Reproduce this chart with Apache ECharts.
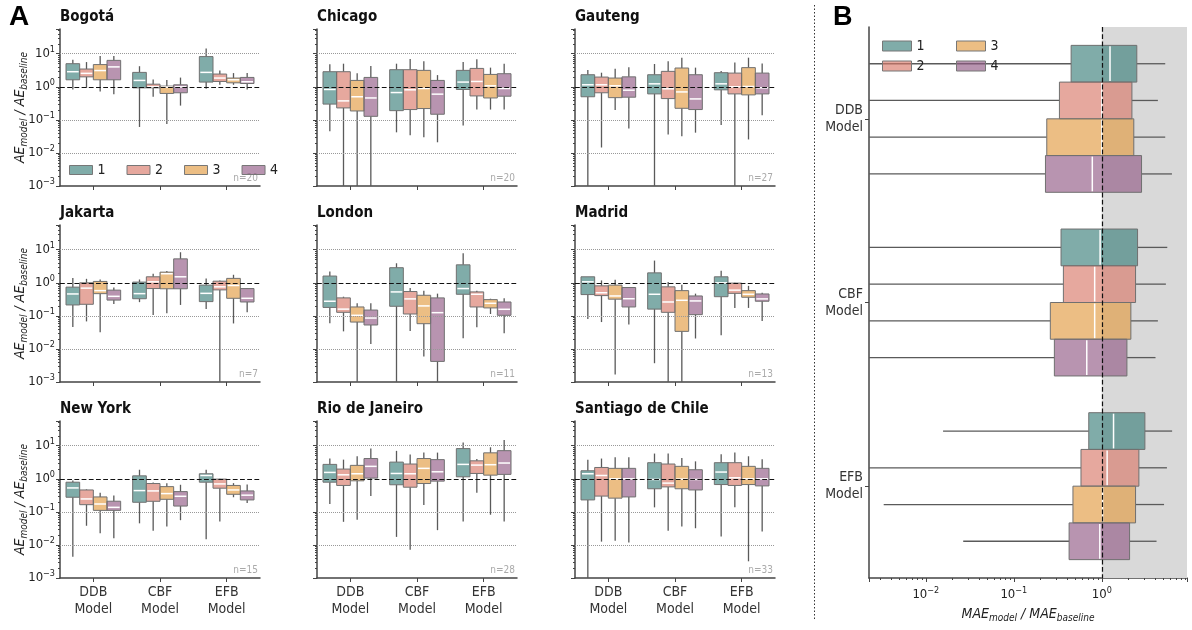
<!DOCTYPE html>
<html><head><meta charset="utf-8">
<script src="https://cdn.jsdelivr.net/npm/echarts@6/dist/echarts.min.js"></script>
<style>html,body{margin:0;padding:0;background:#fff}#c{width:1192px;height:630px}</style>
</head><body><div id="c"></div><script>
// ---------------- data ----------------
const cities = ['Bogotá','Chicago','Gauteng','Jakarta','London','Madrid','New York','Rio de Janeiro','Santiago de Chile'];
const nCounts = ['n=20','n=20','n=27','n=7','n=11','n=13','n=15','n=28','n=33'];
const models = ['DDB\nModel','CBF\nModel','EFB\nModel'];
const seriesNames = ['1','2','3','4'];
// each city: 4 series (1..4); each series: DDB, CBF, EFB as [whiskerLow, q1, median, q3, whiskerHigh]
const bogota = [
  [[0.83,1.63,2.86,5.0,6.6],[0.061,0.93,1.56,2.73,4.2],[0.87,1.39,2.73,8.2,14.3]],
  [[0.93,2.0,2.55,3.45,5.6],[0.5,0.93,1.0,1.2,1.67],[1.15,1.45,1.84,2.43,3.1]],
  [[0.72,1.63,3.1,4.7,8.6],[0.075,0.63,0.98,1.05,1.6],[1.15,1.32,1.63,1.84,2.6]],
  [[0.6,1.63,4.0,6.3,8.6],[0.27,0.66,1.0,1.15,1.9],[0.83,1.26,1.42,1.92,2.6]]
];
const chicago = [
  [[0.045,0.30,0.83,2.86,4.8],[0.042,0.19,0.67,3.29,5.0],[0.068,0.83,1.39,3.14,5.6]],
  [[0.0005,0.23,0.375,2.86,5.0],[0.034,0.205,0.81,3.29,6.95],[0.205,0.53,1.45,3.6,6.8]],
  [[0.0005,0.186,0.5,1.56,2.55],[0.030,0.22,0.89,3.14,5.9],[0.205,0.46,1.07,2.37,3.8]],
  [[0.0005,0.128,0.46,1.92,4.25],[0.021,0.148,0.6,1.56,2.26],[0.205,0.52,0.89,2.49,5.0]]
];
const gauteng = [
  [[0.0005,0.5,1.15,2.32,3.2],[0.0005,0.61,1.23,2.32,4.9],[0.07,0.81,1.23,2.67,3.0]],
  [[0.0146,0.66,1.15,1.97,2.67],[0.036,0.44,0.87,2.93,5.9],[0.0005,0.61,1.0,2.6,5.4]],
  [[0.2,0.47,1.07,1.84,3.5],[0.032,0.224,0.70,3.7,7.6],[0.0256,0.57,1.02,3.8,7.6]],
  [[0.055,0.485,0.79,2.0,3.9],[0.041,0.205,0.43,2.32,3.8],[0.137,0.61,0.93,2.6,5.1]]
];
const jakarta = [
  [[0.046,0.214,0.46,0.74,1.39],[0.26,0.33,0.47,1.05,1.26],[0.16,0.27,0.48,0.85,1.35]],
  [[0.068,0.224,0.69,1.0,1.32],[0.106,0.67,1.07,1.52,1.88],[0.0005,0.61,0.755,1.12,1.18]],
  [[0.032,0.47,0.58,1.1,1.26],[0.119,0.66,1.88,2.1,2.26],[0.059,0.34,0.83,1.36,1.75]],
  [[0.23,0.30,0.39,0.6,0.72],[0.214,0.66,1.52,5.3,8.4],[0.128,0.263,0.34,0.67,0.7]]
];
const london = [
  [[0.06,0.18,0.277,1.6,2.2],[0.0005,0.195,0.53,2.86,3.9],[0.021,0.45,0.67,3.5,7.8]],
  [[0.034,0.128,0.16,0.35,0.38],[0.035,0.114,0.326,0.545,0.70],[0.045,0.186,0.45,0.53,0.58]],
  [[0.0005,0.065,0.104,0.186,0.24],[0.0059,0.058,0.2,0.42,0.58],[0.114,0.174,0.24,0.31,0.33]],
  [[0.014,0.053,0.086,0.15,0.24],[0.0005,0.0042,0.125,0.35,0.47],[0.030,0.104,0.158,0.263,0.34]]
];
const madrid = [
  [[0.08,0.44,1.07,1.52,1.52],[0.0037,0.16,0.45,2.0,4.7],[0.026,0.38,1.0,1.52,2.32]],
  [[0.065,0.41,0.5,0.81,1.18],[0.0005,0.128,0.263,0.755,1.05],[0.174,0.48,0.6,0.98,1.0]],
  [[0.0017,0.32,0.40,0.85,1.23],[0.0005,0.034,0.296,0.58,0.87],[0.174,0.366,0.45,0.58,0.81]],
  [[0.055,0.186,0.33,0.72,0.72],[0.0207,0.109,0.283,0.40,0.47],[0.07,0.277,0.326,0.46,0.5]]
];
const newYork = [
  [[0.0044,0.277,0.53,0.79,0.89],[0.045,0.195,0.44,1.23,1.88],[0.0148,0.79,1.26,1.42,1.88]],
  [[0.038,0.165,0.246,0.46,0.48],[0.027,0.209,0.43,0.72,0.77],[0.051,0.52,0.70,0.98,1.0]],
  [[0.0226,0.111,0.173,0.283,0.38],[0.036,0.24,0.357,0.58,0.74],[0.277,0.34,0.46,0.63,0.74]],
  [[0.016,0.111,0.137,0.21,0.31],[0.056,0.15,0.296,0.41,0.66],[0.186,0.23,0.32,0.43,0.67]]
];
const rio = [
  [[0.173,0.79,1.56,2.73,4.1],[0.0175,0.66,1.45,3.2,7.0],[0.051,1.15,2.73,8.2,12.5]],
  [[0.05,0.63,1.32,1.97,3.8],[0.0071,0.557,1.42,2.8,5.4],[0.38,1.45,2.6,3.5,4.0]],
  [[0.058,0.87,1.42,2.55,4.8],[0.16,0.72,2.07,4.1,6.2],[0.082,1.29,2.67,6.1,9.0]],
  [[0.30,1.05,2.38,4.1,8.2],[0.028,0.85,1.63,3.8,6.2],[0.051,1.36,3.0,7.1,15]]
];
const santiago = [
  [[0.0005,0.23,1.42,1.75,3.8],[0.137,0.5,0.955,3.07,5.8],[0.018,0.67,1.6,3.07,5.5]],
  [[0.0126,0.30,1.26,2.2,4.1],[0.027,0.57,0.74,2.8,5.8],[0.137,0.63,1.07,3.07,6.2]],
  [[0.0135,0.26,1.0,2.07,4.45],[0.036,0.5,0.98,2.38,4.25],[0.0032,0.67,1.0,2.38,4.8]],
  [[0.0118,0.283,1.0,2.07,4.45],[0.032,0.46,0.955,1.88,3.37],[0.0256,0.61,1.0,2.07,3.9]]
];
// panel B: all cities pooled (n=174), MAE ratio
const overall = [
  [[0.001,0.448,1.24,2.5,5.26],[0.001,0.344,0.957,2.55,5.55],[0.0157,0.711,1.36,3.09,6.3]],
  [[0.001,0.33,1.0,2.2,4.34],[0.001,0.366,0.83,2.42,5.35],[0.001,0.58,1.15,2.64,5.5]],
  [[0.001,0.237,1.0,2.31,5.26],[0.001,0.26,0.83,2.14,4.34],[0.00332,0.47,1.02,2.42,5.1]],
  [[0.001,0.229,0.78,2.83,6.27],[0.001,0.289,0.675,1.93,4.08],[0.0266,0.425,0.95,2.07,4.19]]
];
const overallN = 'n=174';
const cityData = [bogota, chicago, gauteng, jakarta, london, madrid, newYork, rio, santiago];

// ---------------- style / layout ----------------
const COLORS = ['rgba(60,127,123,0.65)','rgba(216,121,106,0.65)','rgba(226,155,66,0.65)','rgba(146,90,133,0.65)'];
const FONT = "'DejaVu Sans Condensed','Liberation Sans Narrow',Roboto,sans-serif";
const GRID_LEFT = [60, 317, 575], GRID_TOP = [29, 225, 421], GRID_W = 200, GRID_H = 157;
const Y_MIN = 0.001, Y_MAX = 56;
const BG = {left: 869, top: 27, width: 318, height: 551};
const BX_MIN = 0.00226, BX_MAX = 9.3;
const AXIS_COLOR = '#444';

function rowsOf(seriesArr) { return seriesArr.map((v, m) => [m].concat(v)); }

function makeRender(si, horizontal, frac) {
  return function (params, api) {
    const cat = api.value(0);
    const vals = [api.value(1), api.value(2), api.value(3), api.value(4), api.value(5)];
    const pt = (val, c) => horizontal ? api.coord([val, c]) : api.coord([c, val]);
    const a = pt(1, 0), b = pt(1, 1);
    const band = horizontal ? Math.abs(b[1] - a[1]) : Math.abs(b[0] - a[0]);
    const group = band * frac, w = group / 4;
    const center = pt(1, cat);
    const off = -group / 2 + w * (si + 0.5);
    const p = vals.map(v => pt(v, cat));
    const wStyle = {stroke: '#5a5a5a', lineWidth: 1.3};
    const bStyle = {fill: COLORS[si], stroke: '#707070', lineWidth: 1};
    const mStyle = {stroke: '#fff', lineWidth: 1.5};
    let ch;
    if (!horizontal) {
      const cx = center[0] + off;
      const y = p.map(q => q[1]);
      ch = [
        {type: 'line', shape: {x1: cx, y1: y[0], x2: cx, y2: y[1]}, style: wStyle},
        {type: 'line', shape: {x1: cx, y1: y[3], x2: cx, y2: y[4]}, style: wStyle},
        {type: 'rect', shape: {x: cx - w / 2, y: y[3], width: w, height: y[1] - y[3]}, style: bStyle},
        {type: 'line', shape: {x1: cx - w / 2 + 1, y1: y[2], x2: cx + w / 2 - 1, y2: y[2]}, style: mStyle}
      ];
    } else {
      const cy = center[1] + off;
      const x = p.map(q => q[0]);
      ch = [
        {type: 'line', shape: {x1: x[0], y1: cy, x2: x[1], y2: cy}, style: wStyle},
        {type: 'line', shape: {x1: x[3], y1: cy, x2: x[4], y2: cy}, style: wStyle},
        {type: 'rect', shape: {x: x[1], y: cy - w / 2, width: x[3] - x[1], height: w}, style: bStyle},
        {type: 'line', shape: {x1: x[2], y1: cy - w / 2 + 1, x2: x[2], y2: cy + w / 2 - 1}, style: mStyle}
      ];
    }
    return {type: 'group', children: ch};
  };
}

function powLabel(v) {
  const l = Math.log10(v);
  const e = Math.round(l);
  if (Math.abs(l - e) > 0.01) return '';
  return '10{sup|' + String(e).replace('-', '\u2212') + '}';
}
const powRich = {sup: {fontSize: 9, padding: [0, 0, 8, 0], fontFamily: FONT, color: '#222'}};
const nameRich = {
  i: {fontSize: 14, fontStyle: 'italic', fontFamily: FONT, color: '#222'},
  s: {fontSize: 10, fontStyle: 'italic', fontFamily: FONT, color: '#222', padding: [7, 0, 0, 0]}
};

const grid = [], xAxis = [], yAxis = [], series = [], title = [], graphic = [];

cities.forEach((city, g) => {
  const col = g % 3, row = Math.floor(g / 3);
  grid.push({left: GRID_LEFT[col], top: GRID_TOP[row], width: GRID_W, height: GRID_H});
  xAxis.push({
    type: 'category', gridIndex: g, data: models,
    axisLine: {lineStyle: {color: AXIS_COLOR, width: 1.5}},
    axisTick: {show: true, alignWithLabel: true, length: 4, lineStyle: {color: AXIS_COLOR}},
    axisLabel: {show: row === 2, fontSize: 14, lineHeight: 17, color: '#333', fontFamily: FONT, margin: 6}
  });
  yAxis.push({
    type: 'log', logBase: 10, gridIndex: g, min: Y_MIN, max: Y_MAX,
    axisLine: {show: true, lineStyle: {color: AXIS_COLOR, width: 1.5}},
    axisTick: {show: true, length: 4, lineStyle: {color: AXIS_COLOR}},
    minorTick: {show: true, splitNumber: 9, length: 2, lineStyle: {color: AXIS_COLOR}},
    splitLine: {show: false},
    axisLabel: {show: col === 0, formatter: powLabel, rich: powRich, fontSize: 13, color: '#222', fontFamily: FONT, margin: 5},
    name: col === 0 ? '{i|AE}{s|model}{i| / AE}{s|baseline}' : '',
    nameLocation: 'middle', nameGap: 31, nameRotate: 90, nameMoveOverlap: false,
    nameTextStyle: {rich: nameRich}
  });
  title.push({text: city, left: GRID_LEFT[col], top: GRID_TOP[row] - 19, padding: 0,
    textStyle: {fontSize: 15, fontWeight: 'bold', color: '#111', fontFamily: FONT}});
  series.push({type: 'line', name: 'gridlines', data: [], xAxisIndex: g, yAxisIndex: g, silent: true, z: 1,
    markLine: {silent: true, symbol: 'none', animation: false, label: {show: false},
      lineStyle: {type: 'dotted', color: '#999', width: 1},
      data: [{yAxis: 10}, {yAxis: 0.1}, {yAxis: 0.01}]}});
  cityData[g].forEach((s, si) => {
    series.push({type: 'custom', name: seriesNames[si], xAxisIndex: g, yAxisIndex: g,
      data: rowsOf(s), encode: {x: 0, y: [1, 2, 3, 4, 5]}, clip: true, z: 2,
      itemStyle: {color: COLORS[si], borderColor: '#707070', borderWidth: 1},
      renderItem: makeRender(si, false, 0.82)});
  });
  series.push({type: 'line', name: 'ref', data: [], xAxisIndex: g, yAxisIndex: g, silent: true, z: 5,
    markLine: {silent: true, symbol: 'none', animation: false, label: {show: false},
      lineStyle: {type: 'dashed', color: '#111', width: 1.2}, data: [{yAxis: 1}]}});
  graphic.push({type: 'text', x: GRID_LEFT[col] + GRID_W - 2, y: GRID_TOP[row] + GRID_H - 3,
    style: {text: nCounts[g], fill: '#aaa', fontSize: 10, fontFamily: FONT, textAlign: 'right', textVerticalAlign: 'bottom'}});
});

// panel B
const gB = cities.length;
grid.push(BG);
xAxis.push({
  type: 'log', logBase: 10, gridIndex: gB, min: BX_MIN, max: BX_MAX,
  axisLine: {show: true, lineStyle: {color: AXIS_COLOR, width: 1.5}},
  axisTick: {show: true, length: 4, lineStyle: {color: AXIS_COLOR}},
  minorTick: {show: true, splitNumber: 9, length: 2, lineStyle: {color: AXIS_COLOR}},
  splitLine: {show: false},
  axisLabel: {formatter: powLabel, rich: powRich, fontSize: 13, color: '#222', fontFamily: FONT, margin: 8},
  name: '{i|MAE}{s|model}{i| / MAE}{s|baseline}', nameLocation: 'middle', nameGap: 28,
  nameTextStyle: {rich: nameRich}
});
yAxis.push({
  type: 'category', gridIndex: gB, data: models, inverse: true,
  axisLine: {lineStyle: {color: AXIS_COLOR, width: 1.5}},
  axisTick: {show: true, alignWithLabel: true, length: 4, lineStyle: {color: AXIS_COLOR}},
  axisLabel: {fontSize: 14, lineHeight: 17, color: '#333', fontFamily: FONT, margin: 6, align: 'right'}
});
series.push({type: 'line', name: 'shade', data: [], xAxisIndex: gB, yAxisIndex: gB, silent: true, z: 0,
  markArea: {silent: true, animation: false, itemStyle: {color: '#d9d9d9'},
    data: [[{xAxis: 1}, {xAxis: BX_MAX}]]}});
overall.forEach((s, si) => {
  series.push({type: 'custom', name: seriesNames[si], xAxisIndex: gB, yAxisIndex: gB,
    data: rowsOf(s), encode: {y: 0, x: [1, 2, 3, 4, 5]}, clip: true, z: 2,
    itemStyle: {color: COLORS[si], borderColor: '#707070', borderWidth: 1},
    renderItem: makeRender(si, true, 0.80)});
});
series.push({type: 'line', name: 'refB', data: [], xAxisIndex: gB, yAxisIndex: gB, silent: true, z: 5,
  markLine: {silent: true, symbol: 'none', animation: false, label: {show: false},
    lineStyle: {type: 'dashed', color: '#111', width: 1.2}, data: [{xAxis: 1}]}});
graphic.push({type: 'text', x: BG.left + BG.width - 2, y: BG.top + BG.height - 3,
  style: {text: overallN, fill: '#aaa', fontSize: 10, fontFamily: FONT, textAlign: 'right', textVerticalAlign: 'bottom'}});

graphic.push({type: 'text', x: 9, y: 3, style: {text: 'A', fontSize: 28, fontWeight: 'bold', fill: '#000', fontFamily: 'Liberation Sans, Arial, sans-serif'}});
graphic.push({type: 'text', x: 833, y: 4, style: {text: 'B', fontSize: 27, fontWeight: 'bold', fill: '#000', fontFamily: 'Liberation Sans, Arial, sans-serif'}});
graphic.push({type: 'line', shape: {x1: 814.5, y1: 5, x2: 814.5, y2: 620}, style: {stroke: '#333', lineWidth: 1, lineDash: [1.5, 2]}});

const legendText = {fontSize: 14, color: '#222', fontFamily: FONT};
const legendItem = {borderColor: '#777', borderWidth: 1};
const legend = [
  {data: seriesNames, left: 69, top: 163, padding: 0, itemWidth: 23, itemHeight: 9, itemGap: 21, icon: 'rect',
    textStyle: legendText, itemStyle: legendItem, selectedMode: false},
  {data: ['1', '2'], orient: 'vertical', left: 882, top: 39, padding: 0, itemWidth: 29, itemHeight: 10, itemGap: 6, icon: 'rect',
    textStyle: legendText, itemStyle: legendItem, selectedMode: false},
  {data: ['3', '4'], orient: 'vertical', left: 956, top: 39, padding: 0, itemWidth: 29, itemHeight: 10, itemGap: 6, icon: 'rect',
    textStyle: legendText, itemStyle: legendItem, selectedMode: false}
];

const chart = echarts.init(document.getElementById('c'), null, {renderer: 'canvas'});
chart.setOption({
  animation: false, backgroundColor: '#fff', color: COLORS,
  textStyle: {fontFamily: FONT},
  title, legend, grid, xAxis, yAxis, series, graphic
});
</script></body></html>
